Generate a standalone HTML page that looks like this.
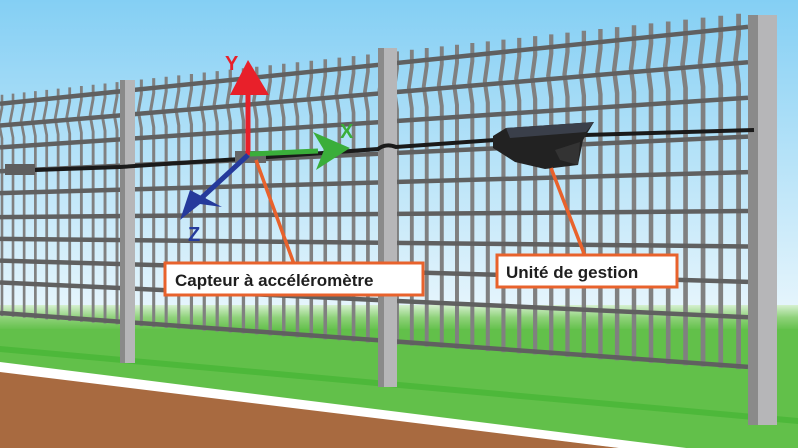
<!DOCTYPE html>
<html><head><meta charset="utf-8">
<style>
html,body{margin:0;padding:0;width:798px;height:448px;overflow:hidden;background:#fff}
svg{display:block}
.lbl{font-family:"Liberation Sans",sans-serif;font-weight:bold;font-size:17px;fill:#1e1e1e}
.ax{font-family:"Liberation Sans",sans-serif;font-weight:bold;font-size:20px}
</style></head>
<body>
<svg id="s" width="798" height="448" viewBox="0 0 798 448" xmlns="http://www.w3.org/2000/svg">
<defs>
<linearGradient id="sky" x1="0" y1="0" x2="0" y2="1">
<stop offset="0" stop-color="#84cff4"/><stop offset="1" stop-color="#e6f5fc"/>
</linearGradient>
<linearGradient id="gr" x1="0" y1="0" x2="0" y2="1">
<stop offset="0" stop-color="#d6f0d0"/><stop offset="0.5" stop-color="#8fd27a"/><stop offset="1" stop-color="#62c04a"/>
</linearGradient>
</defs>
<rect x="0" y="0" width="798" height="310" fill="url(#sky)"/>
<rect x="0" y="305" width="798" height="25" fill="url(#gr)"/>
<rect x="0" y="329" width="798" height="120" fill="#62c04a"/>
<polygon points="0,346 798,418 798,424 0,352" fill="#4db83a"/>
<polygon points="0,362 798,462 798,470 0,373" fill="#ffffff"/>
<polygon points="0,372 798,470 798,448 0,448" fill="#a86a40"/>
<g id="fence"></g>
<rect x="120" y="80" width="5" height="283" fill="#8a8a8a"/><rect x="125" y="80" width="10" height="283" fill="#b6b6b8"/>
<rect x="378" y="48" width="6" height="339" fill="#8a8a8a"/><rect x="384" y="48" width="13" height="339" fill="#b6b6b8"/>
<rect x="748" y="15" width="10" height="410" fill="#8a8a8a"/><rect x="758" y="15" width="19" height="410" fill="#b6b6b8"/>
<path d="M35,170 L120,167 L240,159 L378,149 Q386,143 396,147 L495,140" stroke="#1a1a1a" stroke-width="4" fill="none"/>
<path d="M585,135 L754,130" stroke="#1a1a1a" stroke-width="4" fill="none"/>
<rect x="5" y="164" width="30" height="11" fill="#5e5e5e"/>
<rect x="235" y="151" width="31" height="12" fill="#666"/>
<polygon points="493,136 506,128 594,122 583,140 578,165 545,169 515,162 493,148" fill="#222"/>
<polygon points="506,128 594,122 586,132 510,138" fill="#3a3f4a"/>
<polygon points="555,150 580,142 578,165 560,160" fill="#333"/>
<line x1="248" y1="155" x2="248" y2="90" stroke="#e8202a" stroke-width="5"/>
<polygon points="230,95 269,95 248,60" fill="#e8202a"/>
<text class="ax" x="225" y="70" fill="#e8202a">Y</text>
<line x1="250" y1="154" x2="318" y2="151" stroke="#3aae3a" stroke-width="5"/>
<polygon points="313,132 350,148 316,170 324,150" fill="#3aae3a"/>
<text class="ax" x="340" y="138" fill="#3aae3a">X</text>
<line x1="248" y1="155" x2="196" y2="203" stroke="#253a9c" stroke-width="5"/>
<polygon points="180,220 190,190 222,207 200,204" fill="#253a9c"/>
<text class="ax" x="188" y="241" fill="#253a9c">Z</text>
<line x1="256" y1="160" x2="294" y2="264" stroke="#e8622c" stroke-width="3.5"/>
<line x1="551" y1="168" x2="585" y2="256" stroke="#e8622c" stroke-width="3.5"/>
<rect x="165" y="263" width="258" height="32" fill="#fff" stroke="#e8622c" stroke-width="3"/>
<text class="lbl" x="175" y="286">Capteur à accéléromètre</text>
<rect x="497" y="255" width="180" height="32" fill="#fff" stroke="#e8622c" stroke-width="3"/>
<text class="lbl" x="506" y="278">Unité de gestion</text>
</svg>
<script>
(function(){
var g=document.getElementById('fence');
function top(x){return 95-0.11*x;}
function bot(x){return 313+0.072*x;}
function y(x,f){var t=top(x);return t+f*(bot(x)-t);}
var h='';
var x=2;
while(x<746){
 var w=2.6+0.003*x;
 var yA=y(x,0.06),yB=y(x,0.2),t=top(x),b=bot(x)+3,m=(yA+yB)/2;
 h+='<path d="M'+x+','+t+' L'+x+','+yA+' L'+(x-3)+','+m+' L'+x+','+yB+' L'+x+','+b+'" stroke="#808080" stroke-width="'+w+'" fill="none" stroke-linejoin="round"/>';
 x+=11+0.0095*x;
}
var fs=[0.04,0.14,0.24,0.35,0.45,0.56,0.66,0.76,0.86,1.0];
fs.forEach(function(f){
 h+='<line x1="0" y1="'+y(0,f)+'" x2="748" y2="'+y(748,f)+'" stroke="#606060" stroke-width="4.5"/>';
});
g.innerHTML=h;
})();
</script>
</body></html>
